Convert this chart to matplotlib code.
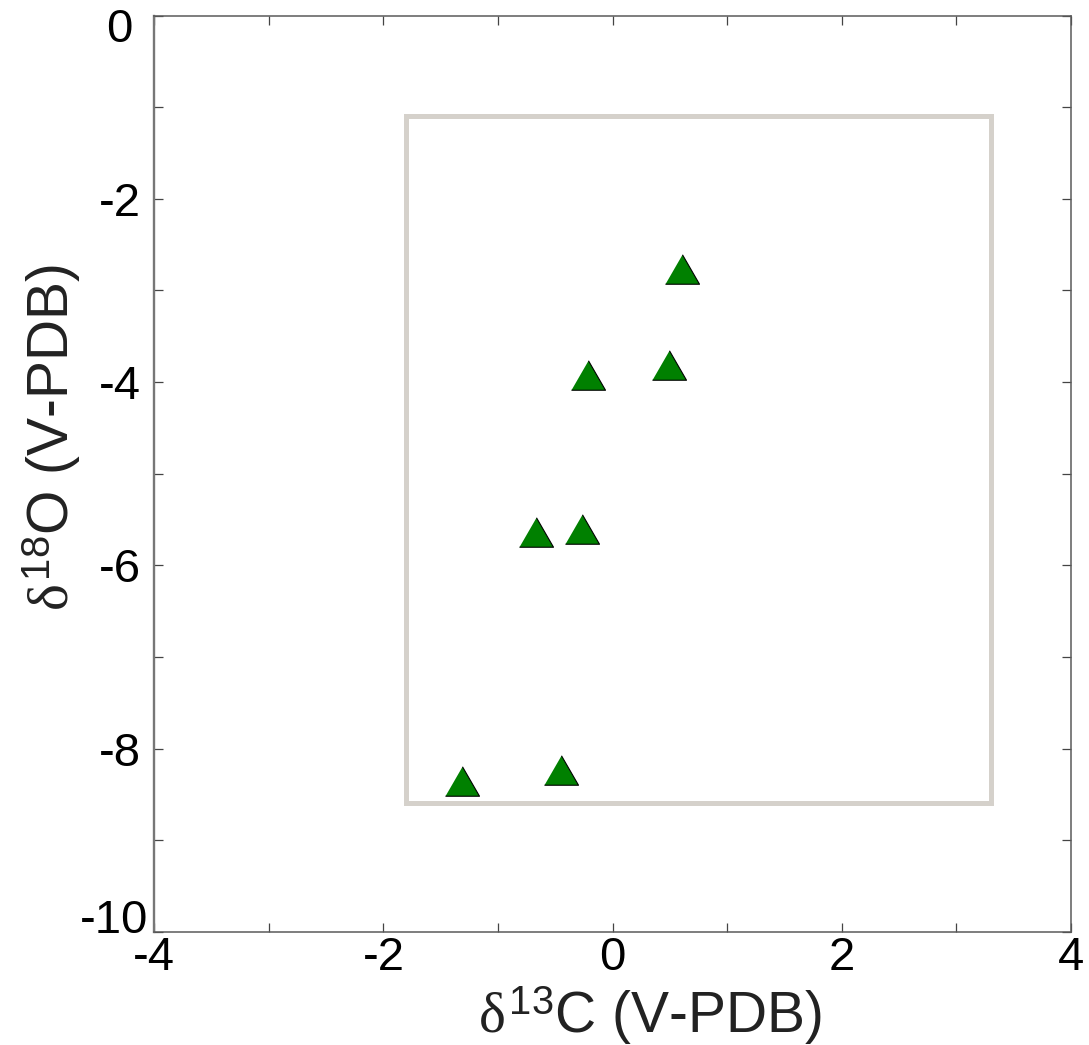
import numpy as np
import matplotlib
matplotlib.use("Agg")
import matplotlib.pyplot as plt
from matplotlib.ticker import MultipleLocator
from matplotlib.transforms import ScaledTranslation

# data (delta 13C vs delta 18O, per mil V-PDB)
d13c = [0.61, 0.49, -0.21, -0.67, -0.27, -1.31, -0.45]
d18o = [-2.77, -3.81, -3.92, -5.64, -5.60, -8.36, -8.24]

# grey reference field
box_x = [-1.8, 3.3]
box_y = [-8.6, -1.1]

xlim = [-4, 4]
ylim = [-10, 0]

plt.rcParams['font.family'] = ['Liberation Sans', 'DejaVu Sans']
plt.rcParams['axes.unicode_minus'] = False
plt.rcParams['mathtext.fontset'] = 'custom'
plt.rcParams['mathtext.rm'] = 'Liberation Sans'
plt.rcParams['mathtext.it'] = 'Liberation Serif'

fig = plt.figure(figsize=(10.89, 10.45), dpi=100)
ax = fig.add_axes([0.1417, 0.1084, 0.8415, 0.8766])

# reference field outline
bx = [box_x[0], box_x[1], box_x[1], box_x[0], box_x[0]]
by = [box_y[0], box_y[0], box_y[1], box_y[1], box_y[0]]
ax.plot(bx, by, color='#d5d1cb', lw=3.6, solid_joinstyle='miter', zorder=2)

tri = [(-1, -0.866), (1, -0.866), (0, 0.866)]
ax.plot(d13c, d18o, ls='none', marker=tri, markersize=24.5,
        markerfacecolor='#008000', markeredgecolor='black',
        markeredgewidth=0.8, zorder=3)

ax.set_xlim(xlim)
ax.set_ylim(ylim)
ax.xaxis.set_major_locator(MultipleLocator(2))
ax.xaxis.set_minor_locator(MultipleLocator(1))
ax.yaxis.set_major_locator(MultipleLocator(2))
ax.yaxis.set_minor_locator(MultipleLocator(1))

for s in ax.spines.values():
    s.set_color('#5a5a5a')
    s.set_linewidth(1.1)
ax.spines['left'].set_color('#777777')
ax.spines['left'].set_linewidth(1.7)

ax.tick_params(which='both', direction='in', length=6.5, width=0.9,
               color='#444444', top=True, right=True)
ax.tick_params(axis='x', which='major', labelsize=34, pad=3)
ax.tick_params(axis='y', which='major', labelsize=34, pad=25)
for lab in ax.get_yticklabels():
    lab.set_horizontalalignment('center')

ax.set_xlabel(r'$\delta^{13}$C (V-PDB)', fontsize=41, color='#222222')
ax.set_ylabel(r'$\delta^{18}$O (V-PDB)', fontsize=41, color='#222222')
ax.xaxis.set_label_coords(0.541, -0.057)
ax.xaxis.label.set_verticalalignment('top')
ax.yaxis.set_label_coords(-0.112, 0.54)
ax.yaxis.label.set_verticalalignment('center')

fig.canvas.draw()
# the end labels of the y axis sit slightly inwards, as in the original
for t in ax.yaxis.get_major_ticks():
    loc = t.get_loc()
    if abs(loc - ylim[1]) < 1e-9:
        off = ScaledTranslation(0, -0.09, fig.dpi_scale_trans)
    elif abs(loc - ylim[0]) < 1e-9:
        off = ScaledTranslation(-0.06, 0.16, fig.dpi_scale_trans)
    else:
        continue
    t.label1.set_transform(t.label1.get_transform() + off)

fig.savefig('out.png', dpi=100)
